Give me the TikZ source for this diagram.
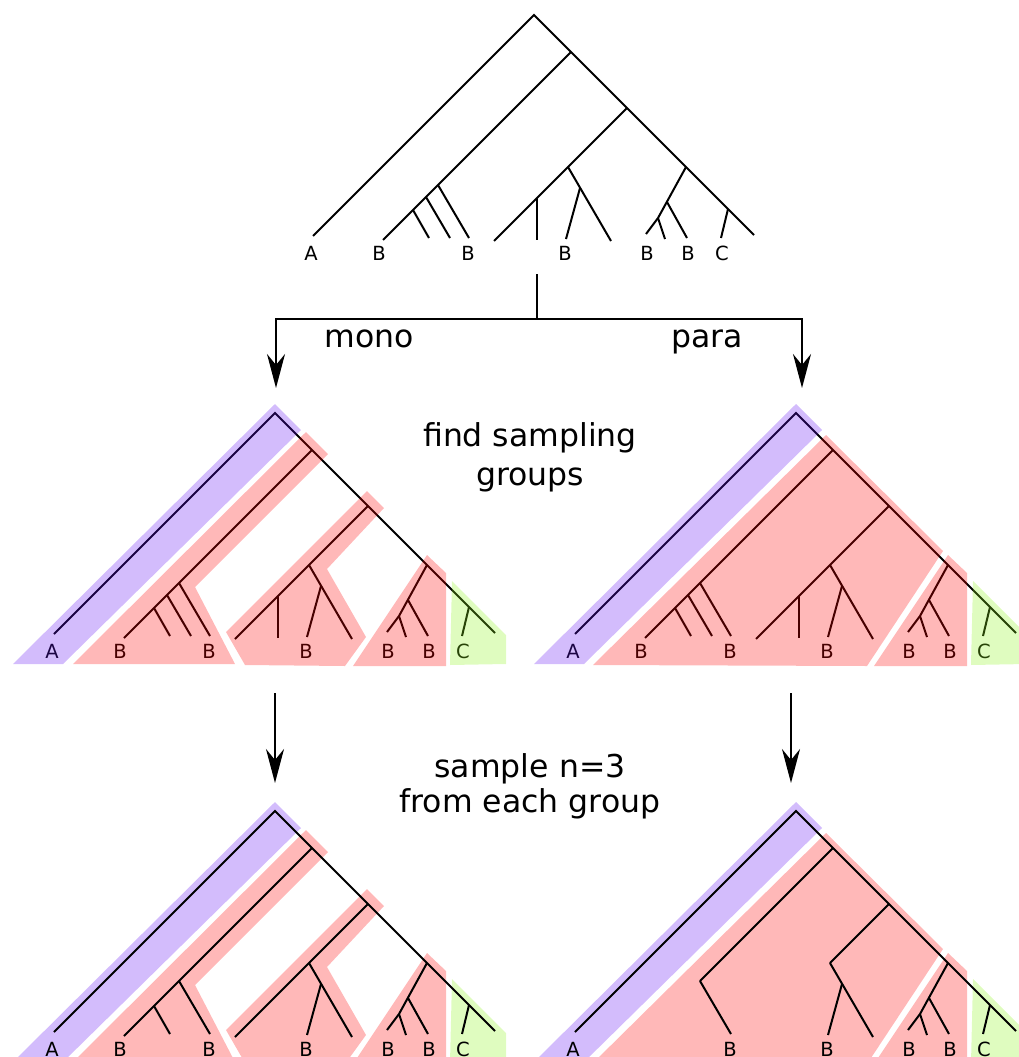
\documentclass[tikz,border=0pt]{standalone}
\usepackage{fontspec}
\setmainfont{DejaVu Sans}
\usetikzlibrary{arrows.meta}
\definecolor{grppurple}{RGB}{98,16,244}
\definecolor{grpred}{RGB}{255,0,0}
\definecolor{grpgreen}{RGB}{141,244,26}

\begin{document}
\begin{tikzpicture}[x=1pt,y=-1pt,line width=2pt,>={Stealth[length=34pt,width=18pt,inset=11pt]},
    leaflab/.style={font=\fontsize{19.5}{20}\selectfont,anchor=base,inner sep=0pt},
    bigtext/.style={font=\fontsize{31.5}{39}\selectfont,align=center,inner sep=0pt},
    purplegrp/.style={fill=grppurple,fill opacity=.28},
    redgrp/.style={fill=grpred,fill opacity=.28},
    greengrp/.style={fill=grpgreen,fill opacity=.28},
    tree/.pic={
      \coordinate (-r) at (0,0);
      \coordinate (-a) at (-221,221);
      \coordinate (-e) at (220,220);
      \coordinate (-n1) at (37,37);
      \coordinate (-n2) at (93,93);
      \coordinate (-n3) at (152,152);
      \coordinate (-nc) at (194,194);
      \coordinate (-b1) at (-151,225);
      \coordinate (-p1) at (-96,170);
      \coordinate (-p2) at (-108,182);
      \coordinate (-p3) at (-121,195);
      \coordinate (-t1) at (-65,223);
      \coordinate (-t2) at (-84,223);
      \coordinate (-t3) at (-105,223);
      \coordinate (-b2) at (-40,226);
      \coordinate (-q1) at (34,152);
      \coordinate (-q2) at (46,173);
      \coordinate (-q3) at (3,183);
      \coordinate (-t4) at (77,226);
      \coordinate (-t5) at (32,224);
      \coordinate (-t6) at (3,225);
      \coordinate (-r1) at (133,187);
      \coordinate (-r2) at (124,203);
      \coordinate (-t7) at (112,219);
      \coordinate (-t8) at (131,224);
      \coordinate (-t9) at (153,223);
      \coordinate (-t10) at (187,223);
      \draw (-a) -- (-r) -- (-e);
      \draw (-p1) -- (-t1);
      \draw (-q1) -- (-t4);
      \draw (-q2) -- (-t5);
      \draw (-n3) -- (-r2) -- (-t7);
      \draw (-r1) -- (-t9);
      \draw (-r2) -- (-t8);
      \draw (-nc) -- (-t10);
      \node[leaflab] (-la) at (-223,245) {A};
      \node[leaflab] (-lb2) at (-66,245) {B};
      \node[leaflab] (-lb3) at (31,245) {B};
      \node[leaflab] (-lb4) at (113,245) {B};
      \node[leaflab] (-lb5) at (154,245) {B};
      \node[leaflab] (-lc) at (188,245) {C};
    },
    monogroups/.pic={
      \fill[purplegrp] (0,-9) -- (26,17) -- (-212,251) -- (-262,251) -- cycle;
      \fill[redgrp] (31,19) -- (53,41) -- (-80,174) -- (-40,251) -- (-202,251) -- cycle;
      \fill[redgrp] (92,78) -- (109,95) -- (52,156) -- (91,224) -- (70,253) -- (-30,252) -- (-49,219) -- cycle;
      \fill[redgrp] (152,142) -- (171,160) -- (171,253) -- (78,253) -- cycle;
      \fill[greengrp] (177,168) -- (231,222) -- (231,251) -- (175,252) -- cycle;
    },
    paragroups/.pic={
      \fill[purplegrp] (0,-9) -- (26,17) -- (-212,251) -- (-262,251) -- cycle;
      \fill[redgrp] (30,22) -- (147,138) -- (71,253) -- (-203,252) -- cycle;
      \fill[redgrp] (152,142) -- (171,160) -- (171,253) -- (78,253) -- cycle;
      \fill[greengrp] (177,168) -- (231,222) -- (231,251) -- (175,252) -- cycle;
    }]
    \useasboundingbox (0,0) rectangle (1019,1057);

    % groups of the bottom row lie under their trees
    \pic (smg) at (275,811) {monogroups};
    \pic (spg) at (796,811) {paragroups};

    % the whole tree
    \pic (top) at (534,15) {tree};
    \draw (top-n1) -- (top-b1);
    \draw (top-p2) -- (top-t2);
    \draw (top-p3) -- (top-t3);
    \draw (top-n2) -- (top-b2);
    \draw (top-q3) -- (top-t6);
    \node[leaflab] (top-lb1) at ([xshift=-4pt,yshift=-20pt]top-b1) {B};

    % groups found
    \pic (mm) at (275,413) {tree};
    \draw (mm-n1) -- (mm-b1);
    \draw (mm-p2) -- (mm-t2);
    \draw (mm-p3) -- (mm-t3);
    \draw (mm-n2) -- (mm-b2);
    \draw (mm-q3) -- (mm-t6);
    \node[leaflab] (mm-lb1) at ([xshift=-4pt,yshift=-20pt]mm-b1) {B};
    \pic (mp) at (796,413) {tree};
    \draw (mp-n1) -- (mp-b1);
    \draw (mp-p2) -- (mp-t2);
    \draw (mp-p3) -- (mp-t3);
    \draw (mp-n2) -- (mp-b2);
    \draw (mp-q3) -- (mp-t6);
    \node[leaflab] (mp-lb1) at ([xshift=-4pt,yshift=-20pt]mp-b1) {B};
    \pic (mmg) at (275,413) {monogroups};
    \pic (mpg) at (796,413) {paragroups};

    % after sampling
    \pic (sm) at (275,811) {tree};
    \draw (sm-n1) -- (sm-b1);
    \draw (sm-p3) -- (sm-t3);
    \draw (sm-n2) -- (sm-b2);
    \node[leaflab] (sm-lb1) at ([xshift=-4pt,yshift=-20pt]sm-b1) {B};
    \pic (sp) at (796,811) {tree};
    \draw (sp-n1) -- (sp-p1);
    \draw (sp-n2) -- (sp-q1);

    % arrows and texts
    \coordinate (stem) at (537,274);
    \coordinate (fork) at (537,319);
    \coordinate (monoend) at (276,388);
    \coordinate (paraend) at (802,388);
    \draw (stem) -- (fork);
    \draw[->] (fork) -| (monoend);
    \draw[->] (fork) -| (paraend);
    \node[bigtext,anchor=base] (mono) at (369,347) {mono};
    \node[bigtext,anchor=base] (para) at (707,347) {para};
    \node[bigtext,anchor=north] (find) at (530,422) {find sampling\\groups};
    \coordinate (monostart) at (275,693);
    \coordinate (monosample) at (275,783);
    \coordinate (parastart) at (791,693);
    \coordinate (parasample) at (791,783);
    \draw[->] (monostart) -- (monosample);
    \draw[->] (parastart) -- (parasample);
    \node[bigtext,anchor=north,font=\fontsize{31.5}{35}\selectfont] (sample) at (530,753) {sample n=3\\from each group};
\end{tikzpicture}
\end{document}
